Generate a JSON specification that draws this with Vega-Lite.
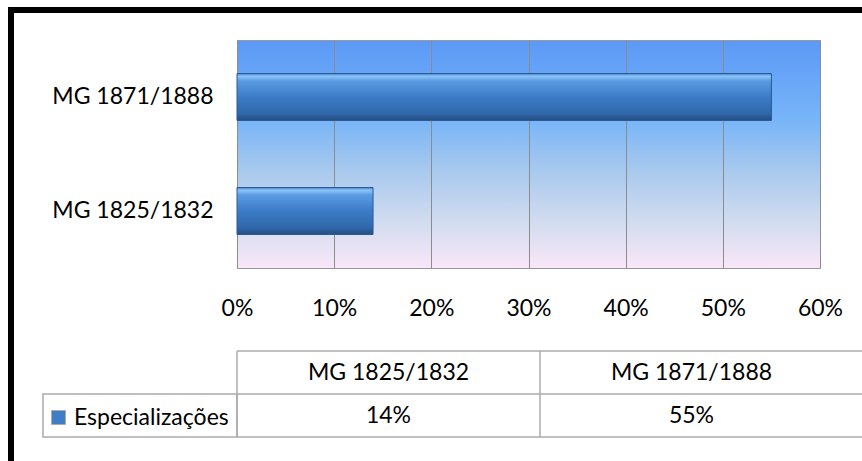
{
  "$schema": "https://vega.github.io/schema/vega-lite/v6.json",
  "padding": {"left": 8, "top": 7, "right": 0, "bottom": 0},
  "background": "white",
  "config": {
    "font": "Lato",
    "view": {"stroke": null},
    "axis": {"labelFont": "Lato", "labelFontSize": 23, "labelColor": "#000000", "title": null},
    "concat": {"spacing": 0}
  },
  "datasets": {
    "dados": [
      {"periodo": "MG 1825/1832", "valor": 0.14, "serie": "Especializações"},
      {"periodo": "MG 1871/1888", "valor": 0.55, "serie": "Especializações"}
    ]
  },
  "bounds": "flush",
  "spacing": 0,
  "resolve": {"scale": {"color": "independent"}, "legend": {"color": "independent"}},
  "hconcat": [
    {
      "data": {"values": []},
      "mark": "rect",
      "width": 6,
      "height": 454,
      "view": {"fill": "#000000", "stroke": null}
    },
    {
      "bounds": "flush",
      "spacing": 27,
      "resolve": {"scale": {"color": "independent"}, "legend": {"color": "independent"}},
      "vconcat": [
        {
          "data": {"values": []},
          "mark": "rect",
          "width": 848,
          "height": 6,
          "view": {"fill": "#000000", "stroke": null}
        },
        {
          "bounds": "flush",
          "spacing": 311,
          "resolve": {"scale": {"color": "independent"}, "legend": {"color": "independent"}},
          "vconcat": [
            {
              "bounds": "flush",
              "spacing": 0,
              "hconcat": [
                {
                  "data": {"values": []},
                  "mark": "rect",
                  "width": 223,
                  "height": 1,
                  "view": {"stroke": null}
                },
                {
                  "width": 583,
                  "height": 228,
                  "data": {"name": "dados"},
                  "view": {
                    "fill": {
                      "gradient": "linear", "x1": 0, "y1": 0, "x2": 0, "y2": 1,
                      "stops": [
                        {"offset": 0, "color": "#5b99f7"},
                        {"offset": 0.35, "color": "#78b5f8"},
                        {"offset": 0.55, "color": "#a4c7ee"},
                        {"offset": 0.8, "color": "#d3dcef"},
                        {"offset": 1, "color": "#f9e7f8"}
                      ]
                    },
                    "stroke": "#999999",
                    "strokeWidth": 1
                  },
                  "mark": {
                    "type": "bar",
                    "fill": {
                      "gradient": "linear", "x1": 0, "y1": 0, "x2": 0, "y2": 1,
                      "stops": [
                        {"offset": 0, "color": "#4a86d0"},
                        {"offset": 0.06, "color": "#8cc4f7"},
                        {"offset": 0.16, "color": "#5b9be4"},
                        {"offset": 0.5, "color": "#3c7bc6"},
                        {"offset": 0.85, "color": "#3068ab"},
                        {"offset": 1, "color": "#244d82"}
                      ]
                    },
                    "stroke": "#2a5a92",
                    "strokeWidth": 1
                  },
                  "encoding": {
                    "y": {
                      "field": "periodo",
                      "type": "nominal",
                      "sort": ["MG 1871/1888", "MG 1825/1832"],
                      "scale": {"paddingInner": 0.588, "paddingOuter": 0.294},
                      "axis": {"ticks": false, "domain": false, "labelPadding": 24, "title": null}
                    },
                    "x": {
                      "field": "valor",
                      "type": "quantitative",
                      "scale": {"domain": [0, 0.6], "nice": false},
                      "axis": {
                        "format": ".0%",
                        "values": [0, 0.1, 0.2, 0.3, 0.4, 0.5, 0.6],
                        "grid": true,
                        "gridColor": "#8c8c8c",
                        "gridWidth": 1,
                        "ticks": false,
                        "domain": false,
                        "labelPadding": 29,
                        "labelFlush": false,
                        "labelOverlap": false,
                        "title": null
                      }
                    }
                  }
                }
              ]
            },
            {
              "bounds": "flush",
              "spacing": 0,
              "resolve": {"scale": {"color": "independent"}, "legend": {"color": "independent"}},
              "hconcat": [
                {
                  "data": {"values": []},
                  "mark": "rect",
                  "width": 29,
                  "height": 1,
                  "view": {"stroke": null}
                },
                {
                  "width": 194,
                  "height": 86,
                  "data": {"values": [{"serie": "Especializações"}]},
                  "mark": {"type": "rect", "filled": false, "strokeWidth": 1.5},
                  "encoding": {
                    "y": {
                      "datum": "Especializações",
                      "type": "nominal",
                      "scale": {"domain": ["hdr", "Especializações"], "paddingInner": 0, "paddingOuter": 0},
                      "axis": null
                    },
                    "color": {
                      "field": "serie",
                      "type": "nominal",
                      "scale": {"domain": ["Especializações"], "range": ["#ababab"]},
                      "legend": {
                        "orient": "none",
                        "legendX": 4,
                        "legendY": 55,
                        "title": null,
                        "padding": 0,
                        "symbolType": "square",
                        "symbolSize": 196,
                        "symbolStrokeWidth": 1,
                        "labelFont": "Lato",
                        "labelFontSize": 23,
                        "labelColor": "#000000",
                        "labelOffset": 4,
                        "encode": {
                          "symbols": {
                            "update": {
                              "fill": {"value": "#3e7ec9"},
                              "stroke": {"value": "#1f4e89"}
                            }
                          }
                        }
                      }
                    }
                  }
                },
                {
                  "width": 625,
                  "height": 86,
                  "data": {"name": "dados"},
                  "layer": [
                    {
                      "mark": {"type": "rule", "color": "#ababab", "strokeWidth": 1.5},
                      "encoding": {
                        "x": {
                          "field": "periodo",
                          "type": "nominal",
                          "bandPosition": 0,
                          "scale": {"domain": ["MG 1825/1832", "MG 1871/1888"], "paddingInner": 0, "paddingOuter": 0.0314, "align": 0},
                          "axis": null
                        }
                      }
                    },
                    {
                      "data": {"values": [{"linha": "topo"}]},
                      "mark": {"type": "rule", "color": "#ababab", "strokeWidth": 1.5},
                      "encoding": {
                        "y": {"datum": "hdr", "type": "nominal", "bandPosition": 0, "scale": {"domain": ["hdr", "Especializações"], "paddingInner": 0, "paddingOuter": 0}, "axis": null}
                      }
                    },
                    {
                      "data": {"values": [{"linha": "meio"}]},
                      "mark": {"type": "rule", "color": "#ababab", "strokeWidth": 1.5},
                      "encoding": {
                        "y": {"datum": "Especializações", "type": "nominal", "bandPosition": 0, "axis": null}
                      }
                    },
                    {
                      "data": {"values": [{"linha": "base"}]},
                      "mark": {"type": "rule", "color": "#ababab", "strokeWidth": 1.5},
                      "encoding": {
                        "y": {"datum": "Especializações", "type": "nominal", "bandPosition": 1, "axis": null}
                      }
                    },
                    {
                      "mark": {"type": "text", "font": "Lato", "fontSize": 23, "color": "#000000"},
                      "encoding": {
                        "x": {"field": "periodo", "type": "nominal", "axis": null},
                        "y": {"datum": "hdr", "type": "nominal", "axis": null},
                        "text": {"field": "periodo"}
                      }
                    },
                    {
                      "mark": {"type": "text", "font": "Lato", "fontSize": 23, "color": "#000000"},
                      "encoding": {
                        "x": {"field": "periodo", "type": "nominal", "axis": null},
                        "y": {"datum": "Especializações", "type": "nominal", "axis": null},
                        "text": {"field": "valor", "format": ".0%"}
                      }
                    }
                  ]
                }
              ]
            }
          ]
        }
      ]
    }
  ]
}
